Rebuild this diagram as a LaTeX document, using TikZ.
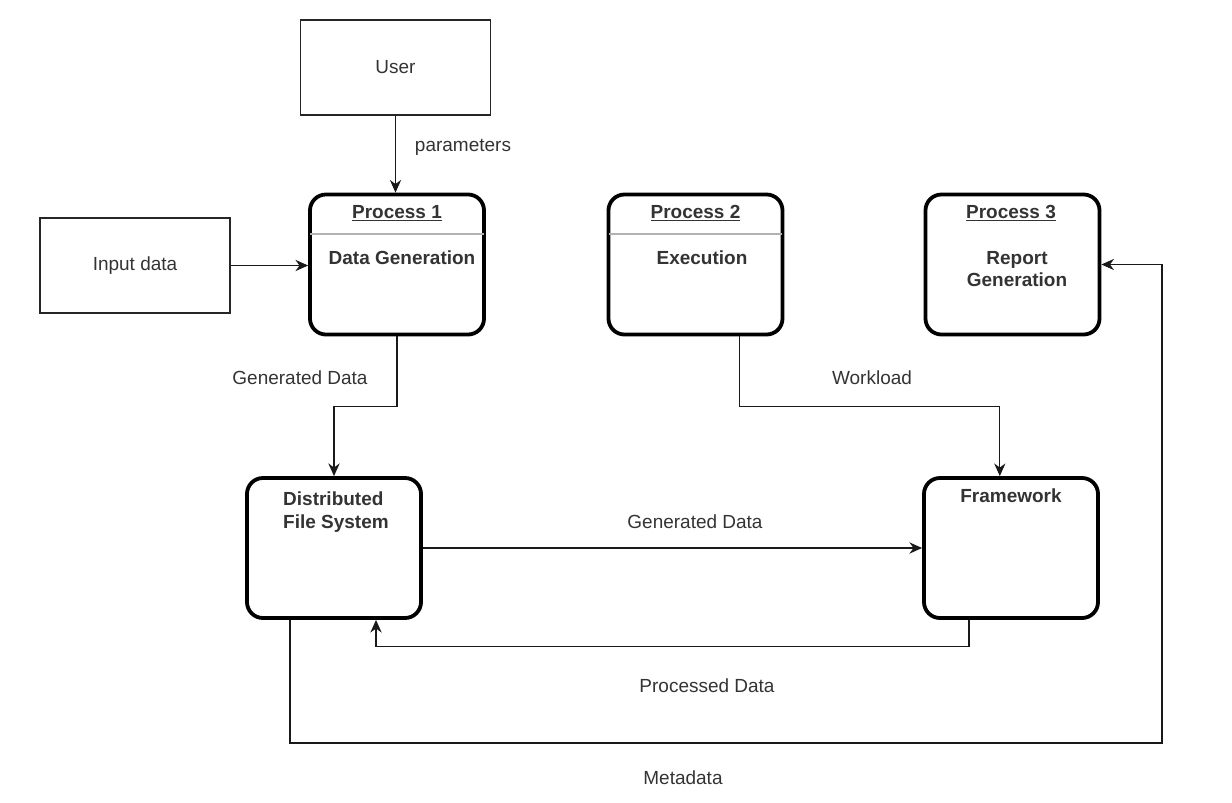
\documentclass[tikz,border=0pt]{standalone}
\usepackage{fontspec}
\setmainfont{Liberation Sans}
\usetikzlibrary{arrows.meta}
\begin{document}
\begin{tikzpicture}[x=0.025cm, y=-0.025cm,
    every node/.style={font=\fontsize{13.5}{16}\selectfont, text=black!80},
    proc/.style={draw=black, line width=2.7pt, rounded corners=0.4cm, minimum width=4.35cm, minimum height=3.5cm},
    ext/.style={draw=black!85, line width=0.9pt, minimum width=4.75cm, minimum height=2.38cm},
    sep/.style={draw=black!30, line width=0.8pt, shorten <=1.4pt, shorten >=1.4pt},
    flow/.style={draw=black!90, line width=0.8pt, -{Stealth[length=9pt,width=8pt]}},
    title/.style={font=\fontsize{13.5}{16}\selectfont\bfseries}]
        \useasboundingbox (0,0) rectangle (1232,803);

        % outside boxes
        \node[ext] (user) at (395.5,67.5) {User};
        \node[ext] (input) at (135,265.5) {Input data};

        % processes
        \node[proc] (p1) at (397,264.5) {};
        \node[proc] (p2) at (695.5,264.5) {};
        \node[proc] (p3) at (1012.5,264.5) {};
        \node[proc] (dfs) at (334,548) {};
        \node[proc] (fw) at (1011,548) {};

        \draw[sep] (p1.west |- 0,234) -- (p1.east |- 0,234);
        \draw[sep] (p2.west |- 0,234) -- (p2.east |- 0,234);

        \node[title] (p1t) at (397,213) {\underline{Process 1}};
        \node[title] (p1b) at (402,258) {Data Generation};
        \node[title] (p2t) at (695.5,213) {\underline{Process 2}};
        \node[title] (p2b) at (702,258) {Execution};
        \node[title] (p3t) at (1011,213) {\underline{Process 3}};
        \node[title, align=center] (p3b) at (1017,269) {Report\\Generation};
        \node[title, align=left] (dfsb) at (336,512) {Distributed\\File System};
        \node[title] (fwb) at (1011,496) {Framework};

        % flows
        \draw[flow] (user.south) -- (user.south |- p1.north);
        \draw[flow] (input.east) -- (input.east -| p1.west);
        \draw[flow] (p1.south) -- ++(0,70) -| (dfs.north);
        \draw[flow] ([xshift=1.11cm]p2.south) -- ++(0,70) -| ([xshift=-0.28cm]fw.north);
        \draw[flow] (dfs.east) -- (fw.west);
        \draw[flow] ([xshift=-1.05cm]fw.south) -- ++(0,27) -| ([xshift=1.05cm]dfs.south);
        \coordinate (mcorner) at (1162,743);
        \draw[flow] ([xshift=-1.1cm]dfs.south) |- (mcorner) |- (p3.east);

        % flow labels
        \node (lpar) at (463,147) {parameters};
        \node (lgen1) at (300,378) {Generated Data};
        \node (lwork) at (872,378) {Workload};
        \node (lgen2) at (695,522) {Generated Data};
        \node (lproc) at (707,686) {Processed Data};
        \node (lmeta) at (683,778) {Metadata};
    \end{tikzpicture}
\end{document}
